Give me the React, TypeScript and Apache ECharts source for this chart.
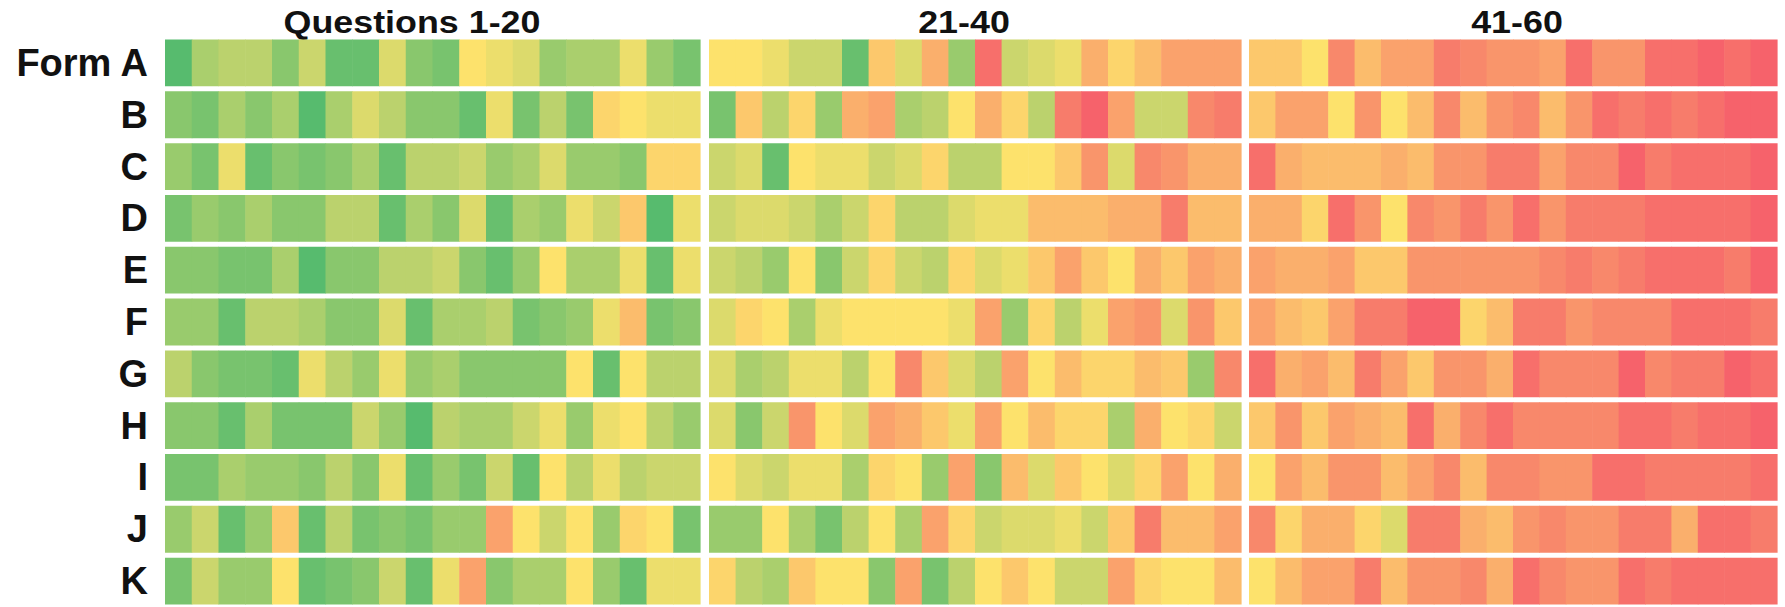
import React, { useEffect, useRef } from "react";
import * as echarts from "echarts";

const forms = ["Form A", "B", "C", "D", "E", "F", "G", "H", "I", "J", "K"];
const panelTitles = ["Questions 1-20", "21-40", "41-60"];
const questionLabels = [
  "1","2","3","4","5","6","7","8","9","10","11","12","13","14","15","16","17","18","19","20",
  "21","22","23","24","25","26","27","28","29","30","31","32","33","34","35","36","37","38","39","40",
  "41","42","43","44","45","46","47","48","49","50","51","52","53","54","55","56","57","58","59","60",
];

// difficulty score per question (0 = green, 5 = yellow, 10 = red)
const formA = [
  0,2.5,3,3,1.5,3.5,0.5,0.5,4,1.5,1,5,4.5,4,2,2.5,2.5,4.5,2,1,
  5,5,4.5,3.5,3.5,0.5,6,4,7,2,9.5,3.5,4,4.5,7,5.5,6.5,7.5,7.5,7.5,
  6,6,5,8.5,6.5,7.5,7.5,9,8.5,8,8,7.5,9.5,8,8,9.5,9.5,10,9.5,10,
];
const formB = [
  1.5,1,2.5,1.5,2.5,0,2.5,4,3,1.5,1.5,0.5,4.5,1,3,1,5.5,5,4.5,4.5,
  1,6,3,5.5,2,7,7.5,2.5,3,5,7,5.5,3,9,10,7.5,3.5,3.5,8.5,9,
  6,7.5,7.5,5,8,5,6.5,8.5,6.5,8,8.5,6.5,8,9.5,9,9.5,9,9.5,10,10,
];
const formC = [
  2,1,4.5,0.5,1.5,1,1.5,2.5,0.5,3,3,3.5,2,2.5,4,2,2,1.5,5.5,5.5,
  3.5,4,0.5,5,4.5,4.5,3.5,4,5.5,3,3,5,5,6,8,4,8.5,8,7,7,
  9.5,7,6.5,6.5,6.5,7,6.5,8,8,9,9,7.5,8.5,8.5,10,9,9.5,9.5,9.5,10,
];
const formD = [
  1,2,1.5,2.5,1.5,1.5,3,3,0.5,2.5,1.5,4,0.5,2.5,2,4.5,3.5,6,0,4.5,
  3.5,4,4,3.5,2.5,3.5,5.5,3,3,4,4.5,4.5,6.5,6.5,6.5,7,7,9,6.5,6.5,
  7,7,5.5,9.5,8,5,8.5,8,9,8,9.5,8,9,9,9,9.5,9.5,9.5,9.5,10,
];
const formE = [
  1.5,1.5,1,1,2.5,0,1.5,1.5,3,3,3.5,1.5,0.5,2,5,2.5,2.5,4.5,0.5,4.5,
  3.5,3,2,5,1.5,3.5,5.5,3.5,3,5.5,4,4.5,6,7.5,6,5,7,6,7.5,7,
  7.5,7,7,7.5,6,6,8,8,8,8,8,8.5,9,8.5,9,9.5,9.5,9.5,9,10,
];
const formF = [
  2,2,0.5,3,3,2.5,1.5,1.5,4,0.5,2.5,2.5,3,1,1.5,2,4.5,6.5,1,1.5,
  4,5.5,5,2.5,4.5,5,5,5,5,4.5,7.5,2,5.5,3,4.5,7.5,8,4,8,6,
  7.5,6.5,6,7.5,9,9,10,10,5.5,6.5,9,9,8,8.5,8.5,8.5,9.5,9.5,9.5,9,
];
const formG = [
  3,1.5,1,1,0.5,4.5,3,2,4.5,2,2.5,1.5,1.5,1.5,1.5,5,0.5,5,3,3,
  4,2.5,3,4.5,4.5,3,5,8.5,6,4,3,7.5,5,6.5,5.5,5.5,6.5,6,2,8.5,
  9.5,7,7.5,6.5,9,7.5,6,8,8,7,9.5,8.5,8.5,8.5,10,8.5,9,9,10,9.5,
];
const formH = [
  1.5,1.5,0.5,2.5,1,1,1,3.5,2,0,3,2.5,2.5,3.5,4.5,2,4.5,5,3,2,
  4,1.5,3.5,8,5,4,7.5,7,6,4.5,7.5,5,6.5,5.5,5.5,2.5,7,5,5.5,3.5,
  6,8,6,7.5,7,6.5,9.5,7,8.5,9.5,8.5,8.5,8.5,8.5,9.5,9.5,9,9.5,9.5,10,
];
const formI = [
  1,1,2.5,2,2,1.5,3,1.5,4.5,0.5,2,1,3.5,0.5,5,3,4.5,3,3.5,3.5,
  5,4,3.5,4.5,4.5,2.5,5.5,5,2,7.5,1.5,6.5,4,6,5,4,5.5,7.5,5,7,
  5,7.5,6.5,8,8,6.5,7.5,8.5,6.5,8.5,8.5,8,8,9.5,9.5,9,9,9,9,9.5,
];
const formJ = [
  2,3.5,0.5,2,6,0.5,3,1,1.5,1,2,2,7.5,5,3.5,5,2,5.5,5,1,
  2,2,5,2.5,1,3,5,2.5,7.5,5.5,3.5,4,4,4.5,3.5,6,9,6.5,6.5,7.5,
  8.5,5.5,7,7,5.5,4,9,9,7,6.5,8,8.5,8,8,9,9,7,9.5,9.5,9,
];
const formK = [
  1,3.5,2,2,5,0.5,1,1.5,3.5,0.5,4.5,7.5,1.5,2.5,2.5,5,2,0.5,4.5,4.5,
  5.5,3,2.5,6,5,5,1.5,7.5,1,3,5,6,5,3.5,3.5,7.5,5.5,5,5,6.5,
  5,6.5,7.5,7.5,9,6.5,8,8,8.5,7,9.5,8.5,8,8,9.5,9,9.5,9.5,9.5,9.5,
];

const formRows = [formA, formB, formC, formD, formE, formF, formG, formH, formI, formJ, formK];

const FONT = "'Liberation Sans', Arial, Helvetica, sans-serif";

export default function App() {
  const ref = useRef<HTMLDivElement>(null);

  useEffect(() => {
    if (!ref.current) return;
    const chart = echarts.init(ref.current, null, { renderer: "svg" });

    const panels = [
      { left: 165, width: 535, titleX: 412 },
      { left: 709, width: 532, titleX: 964 },
      { left: 1249, width: 528, titleX: 1517 },
    ];
    const gridTop = 37;
    const gridHeight = 572;
    const rowGap = 5;

    const grids = panels.map((p) => ({
      left: p.left,
      width: p.width,
      top: gridTop,
      height: gridHeight,
    }));

    const xAxes = panels.map((_, i) => ({
      type: "category",
      gridIndex: i,
      data: questionLabels.slice(i * 20, i * 20 + 20),
      show: false,
    }));

    const yAxes = panels.map((_, i) => ({
      type: "category",
      gridIndex: i,
      data: forms,
      inverse: true,
      axisLine: { show: false },
      axisTick: { show: false },
      splitLine: { show: false },
      axisLabel: {
        show: i === 0,
        fontSize: 38,
        fontWeight: "bold",
        fontFamily: FONT,
        color: "#111",
        margin: 17,
      },
    }));

    const series = panels.map((_, p) => {
      const data: number[][] = [];
      formRows.forEach((row, r) => {
        row.slice(p * 20, p * 20 + 20).forEach((v, c) => data.push([c, r, v]));
      });
      return {
        type: "custom",
        xAxisIndex: p,
        yAxisIndex: p,
        encode: { x: 0, y: 1 },
        data,
        renderItem: (params: any, api: any) => {
          const c = api.coord([api.value(0), api.value(1)]);
          const s = api.size([1, 1]);
          return {
            type: "rect",
            shape: {
              x: c[0] - s[0] / 2,
              y: c[1] - s[1] / 2 + rowGap / 2,
              width: s[0] + 0.6,
              height: s[1] - rowGap,
            },
            style: { fill: api.visual("color") },
          };
        },
      };
    });

    chart.setOption({
      animation: false,
      backgroundColor: "#ffffff",
      grid: grids,
      xAxis: xAxes,
      yAxis: yAxes,
      visualMap: {
        show: false,
        type: "continuous",
        min: 0,
        max: 10,
        dimension: 2,
        seriesIndex: [0, 1, 2],
        inRange: { color: ["#57bb6e", "#fde26c", "#f6626b"] },
      },
      graphic: panels.map((p, i) => ({
        type: "text",
        x: p.titleX,
        y: 22,
        scaleX: 1.12,
        style: {
          text: panelTitles[i],
          textAlign: "center",
          textVerticalAlign: "middle",
          font: `bold 32px ${FONT}`,
          fill: "#111",
        },
      })),
      series,
    });

    return () => chart.dispose();
  }, []);

  return (
    <div
      ref={ref}
      style={{ position: "absolute", left: 0, top: 0, width: 1785, height: 607 }}
    />
  );
}
